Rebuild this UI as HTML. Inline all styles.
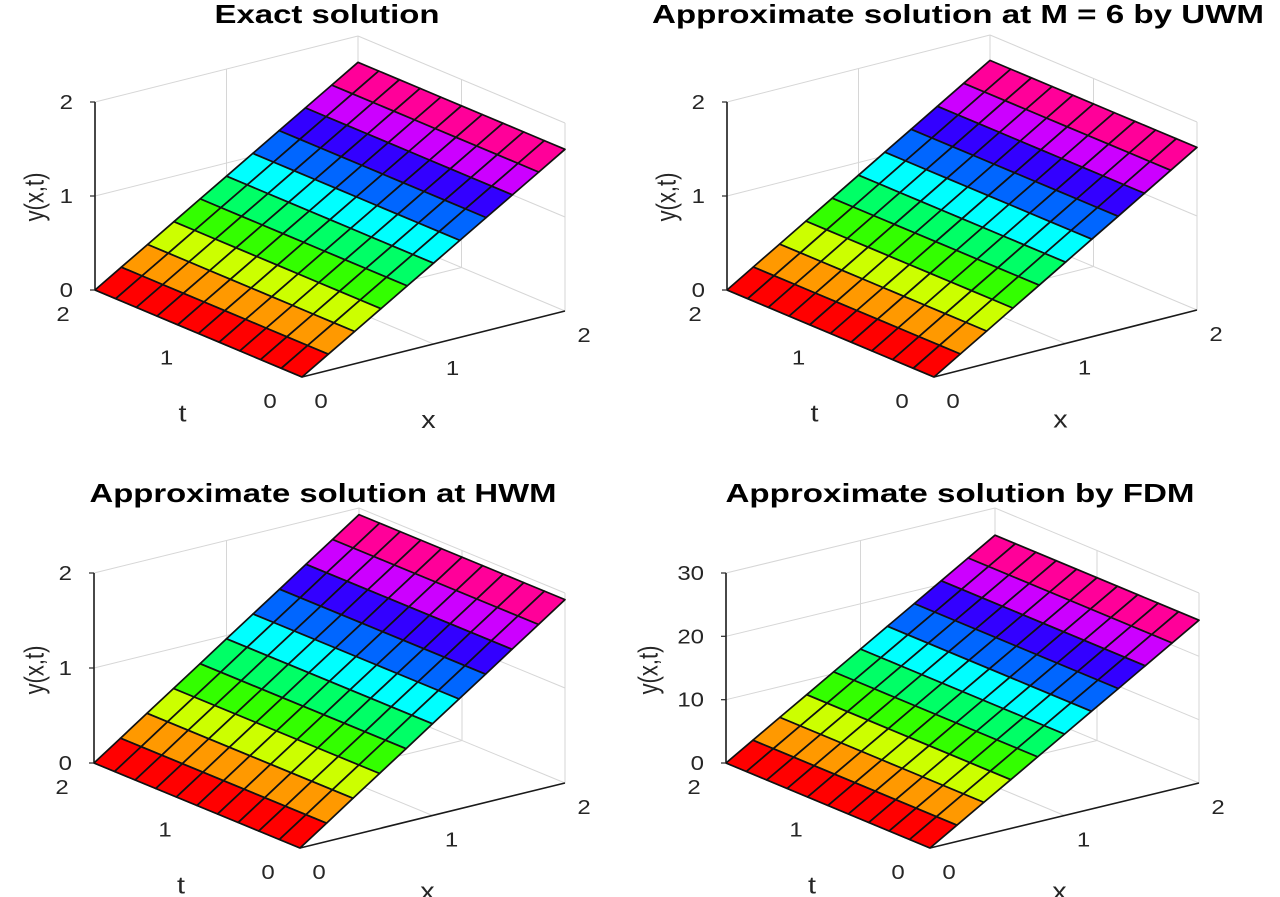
<!DOCTYPE html>
<html>
<head>
<meta charset="utf-8">
<style>
  html,body{margin:0;padding:0;background:#fff;}
  svg{display:block;}
  text{font-family:"Liberation Sans",Arial,sans-serif;}
</style>
</head>
<body>
<svg id="fig" width="1280" height="897" viewBox="0 0 1280 897" xmlns="http://www.w3.org/2000/svg">
  <rect width="1280" height="897" fill="#ffffff"/>
</svg>
<script>
// ---- data ----
const xNodes = [0, 0.2, 0.4, 0.6, 0.8, 1.0, 1.2, 1.4, 1.6, 1.8, 2.0];
const tNodes = [0, 0.2, 0.4, 0.6, 0.8, 1.0, 1.2, 1.4, 1.6, 1.8, 2.0];
const exactZ = [0, 0.172, 0.344, 0.516, 0.688, 0.86, 1.032, 1.204, 1.376, 1.548, 1.72];
const uwmZ   = [0, 0.173, 0.346, 0.519, 0.692, 0.865, 1.038, 1.211, 1.384, 1.557, 1.73];
const hwmZ   = [0, 0.193, 0.386, 0.579, 0.772, 0.965, 1.158, 1.351, 1.544, 1.737, 1.93];
const fdmZ   = [0, 2.57, 5.14, 7.71, 10.28, 12.85, 15.42, 17.99, 20.56, 23.13, 25.7];
const zTicksSmall = [0, 1, 2];
const zTicksFdm = [0, 10, 20, 30];
const xTicks = [0, 1, 2];
const tTicks = [0, 1, 2];
const titles = ["Exact solution", "Approximate solution at M = 6 by UWM", "Approximate solution at HWM", "Approximate solution by FDM"];

// colormap hsv(10)
const cmap = ["#ff0000","#ff9900","#ccff00","#33ff00","#00ff66","#00ffff","#0066ff","#3300ff","#cc00ff","#ff0099"];

const panels = [
  {key:"exact", z:exactZ, zTicks:zTicksSmall, zMax:2, A:[302,377], B:[95,290], C:[565,311], zpx:188, title:titles[0], tx:327, ty:23, tw:225, ylx:34},
  {key:"uwm",   z:uwmZ,   zTicks:zTicksSmall, zMax:2, A:[934,377], B:[727,290], C:[1197,310], zpx:188, title:titles[1], tx:958, ty:23, tw:612, ylx:666},
  {key:"hwm",   z:hwmZ,   zTicks:zTicksSmall, zMax:2, A:[300,848], B:[94,763], C:[565,783], zpx:190, title:titles[2], tx:323, ty:502, tw:467, ylx:34},
  {key:"fdm",   z:fdmZ,   zTicks:zTicksFdm,   zMax:30, A:[930,848], B:[726,763], C:[1199,783], zpx:190, title:titles[3], tx:960, ty:502, tw:469, ylx:648}
];

const NS = "http://www.w3.org/2000/svg";
const svg = document.getElementById("fig");
const XMAX = 2, TMAX = 2;

function mk(tag, attrs, parent){
  const e = document.createElementNS(NS, tag);
  for (const k in attrs) e.setAttribute(k, attrs[k]);
  parent.appendChild(e);
  return e;
}

function drawPanel(p){
  const g = mk("g", {}, svg);
  
  
  const zs = p.zpx / p.zMax;
  const proj = (x, t, z) => [
    p.A[0] + (p.C[0]-p.A[0])*x/XMAX + (p.B[0]-p.A[0])*t/TMAX,
    p.A[1] + (p.C[1]-p.A[1])*x/XMAX + (p.B[1]-p.A[1])*t/TMAX - z*zs
  ];
  const line = (a, b, color, w, name) => {
    const l = mk("line", {x1:a[0].toFixed(1), y1:a[1].toFixed(1), x2:b[0].toFixed(1), y2:b[1].toFixed(1), stroke:color, "stroke-width":w}, g);
    
    
    return l;
  };
  const grid = "#d6d6d6";
  p.zTicks.forEach(zv => {
    line(proj(0, TMAX, zv), proj(XMAX, TMAX, zv), grid, 1, 'z-gridline-back-left');
    line(proj(XMAX, TMAX, zv), proj(XMAX, 0, zv), grid, 1, 'z-gridline-back-right');
  });
  xTicks.forEach(xv => { if (xv > 0) line(proj(xv, TMAX, 0), proj(xv, TMAX, p.zMax), grid, 1, 'x-gridline-wall'); });
  tTicks.forEach(tv => { line(proj(XMAX, tv, 0), proj(XMAX, tv, p.zMax), grid, 1, 't-gridline-wall'); });
  xTicks.forEach(xv => { if (xv > 0 && xv < XMAX) line(proj(xv, 0, 0), proj(xv, TMAX, 0), grid, 1, 'x-gridline-floor'); });
  tTicks.forEach(tv => { if (tv > 0 && tv < TMAX) line(proj(0, tv, 0), proj(XMAX, tv, 0), grid, 1, 't-gridline-floor'); });

  line(proj(0, 0, 0), proj(XMAX, 0, 0), "#1a1a1a", 1.6, 'x-axis-line');
  line(proj(0, 0, 0), proj(0, TMAX, 0), "#1a1a1a", 1.6, 't-axis-line');
  line(proj(0, TMAX, 0), proj(0, TMAX, p.zMax), "#1a1a1a", 1.6, 'z-axis-line');

  const zmin = Math.min(...p.z), zmax = Math.max(...p.z);
  const sg = mk("g", {}, g);
  
  
  for (let j = tNodes.length - 2; j >= 0; j--) {
    for (let i = xNodes.length - 2; i >= 0; i--) {
      const x0 = xNodes[i], x1 = xNodes[i+1], t0 = tNodes[j], t1 = tNodes[j+1];
      const z0 = p.z[i], z1 = p.z[i+1];
      const avg = (z0 + z1) / 2;
      let idx = Math.floor((avg - zmin) / ((zmax - zmin) || 1) * cmap.length);
      idx = Math.max(0, Math.min(cmap.length - 1, idx));
      const pts = [proj(x0,t0,z0), proj(x1,t0,z1), proj(x1,t1,z1), proj(x0,t1,z0)]
        .map(q => q[0].toFixed(1) + "," + q[1].toFixed(1)).join(" ");
      const poly = mk("polygon", {points:pts, fill:cmap[idx], stroke:"#111", "stroke-width":1.7, "stroke-linejoin":"round"}, sg);
      
      
    }
  }

  const txt = (s, x, y, size, anchor, name) => {
    const e = mk("text", {transform:`translate(${x.toFixed(1)},${y.toFixed(1)}) scale(1.2,1)`, "font-size":size, "text-anchor":anchor, fill:"#262626"}, g);
    e.textContent = s;
    
    
    return e;
  };

  p.zTicks.forEach(zv => {
    const q = proj(0, TMAX, zv);
    line([q[0]-5, q[1]], q, "#262626", 1.2, 'z-tick');
    txt(String(zv), q[0] - 22, q[1] + 7, 20, "end", 'z-tick-label');
  });
  xTicks.forEach(xv => {
    const q = proj(xv, 0, 0);
    txt(String(xv), q[0] + 19, q[1] + 31, 20, "middle", 'x-tick-label');
  });
  tTicks.forEach(tv => {
    const q = proj(0, tv, 0);
    txt(String(tv), q[0] - 32, q[1] + 31, 20, "middle", 't-tick-label');
  });
  const ax = proj(XMAX/2, 0, 0);
  txt("x", ax[0] - 5, ax[1] + 84, 24, "middle", 'x-axis-title');
  const at = proj(0, TMAX/2, 0);
  txt("t", at[0] - 16, at[1] + 88, 24, "middle", 't-axis-title');
  const zl = mk("text", {transform:`translate(${p.ylx},${p.B[1]-93}) rotate(-90) scale(1,1.25)`, "font-size":22, "text-anchor":"middle", fill:"#262626", dy:"0.35em"}, g);
  zl.textContent = "y(x,t)";
  
  
  const tt = mk("text", {x:p.tx, y:p.ty, "font-size":26, "font-weight":"bold", "text-anchor":"middle", fill:"#000", textLength:p.tw, lengthAdjust:"spacingAndGlyphs"}, g);
  tt.textContent = p.title;
  
  
}

panels.forEach(drawPanel);
</script>
</body>
</html>
